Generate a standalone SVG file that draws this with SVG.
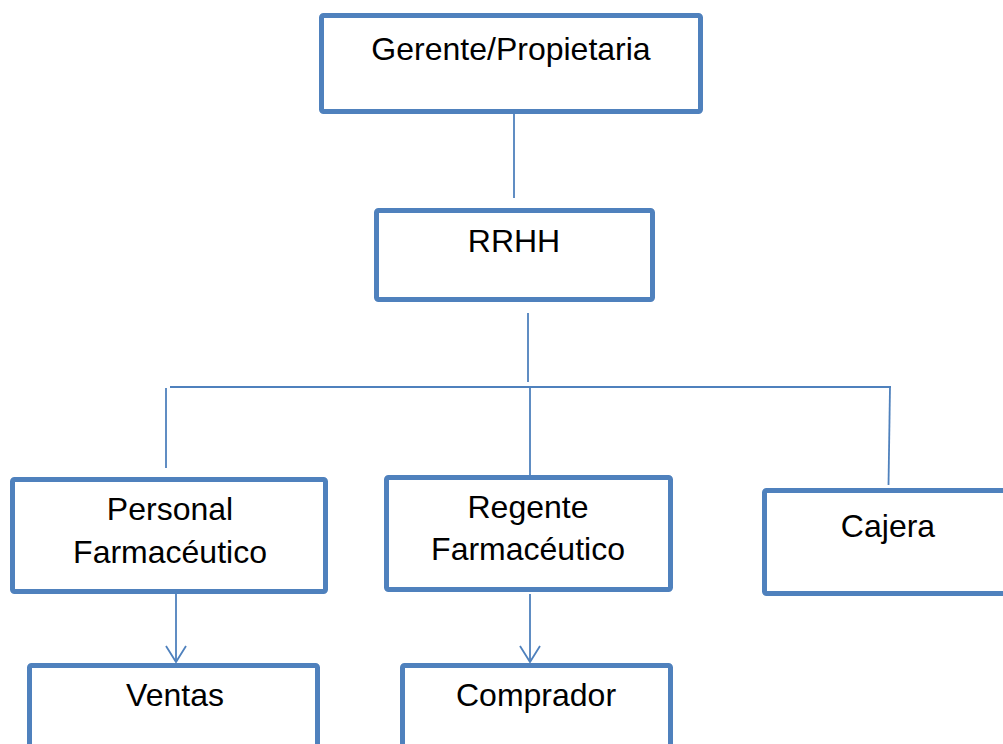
<svg xmlns="http://www.w3.org/2000/svg" width="1003" height="744" viewBox="0 0 1003 744">
<style>
.box{fill:#fff;stroke:#4F81BD;stroke-width:5}
.ln{fill:none;stroke:#4F81BD;stroke-width:1.8}
text{font-family:"Liberation Sans",Arial,sans-serif;font-size:32px;fill:#000;text-anchor:middle}
</style>
<defs>
<marker id="arr" markerUnits="userSpaceOnUse" markerWidth="24" markerHeight="20" refX="11" refY="17" orient="0" viewBox="0 0 22 20">
<path d="M1 1 L11 17 L21 1" fill="none" stroke="#4F81BD" stroke-width="1.8"/>
</marker>
</defs>
<rect width="1003" height="744" fill="#fff"/>
<g id="connectors">
<line class="ln" x1="514" y1="114" x2="514" y2="198"/>
<line class="ln" x1="528" y1="313" x2="528" y2="382"/>
<line class="ln" x1="170" y1="387" x2="891" y2="387"/>
<line class="ln" x1="166" y1="388" x2="166" y2="468"/>
<line class="ln" x1="530" y1="387" x2="530" y2="475"/>
<line class="ln" x1="890" y1="387" x2="888.5" y2="485"/>
<line class="ln" x1="176" y1="594" x2="176" y2="662" marker-end="url(#arr)"/>
<line class="ln" x1="530" y1="594" x2="530" y2="662" marker-end="url(#arr)"/>
</g>
<g id="gerente"><rect class="box" x="321.5" y="15.5" width="379" height="96" rx="2"/><text x="511" y="60">Gerente/Propietaria</text></g>
<g id="rrhh"><rect class="box" x="376.5" y="210.5" width="276" height="89" rx="2"/><text x="514" y="252">RRHH</text></g>
<g id="personal"><rect class="box" x="12.5" y="479.5" width="313" height="112" rx="2"/><text x="170" y="520">Personal</text><text x="170" y="563">Farmacéutico</text></g>
<g id="regente"><rect class="box" x="386.5" y="477.5" width="284" height="112" rx="2"/><text x="528" y="518">Regente</text><text x="528" y="560">Farmacéutico</text></g>
<g id="cajera"><rect class="box" x="764.5" y="490.5" width="260" height="103" rx="2"/><text x="888" y="537">Cajera</text></g>
<g id="ventas"><rect class="box" x="29.5" y="665.5" width="288" height="120" rx="2"/><text x="175" y="706">Ventas</text></g>
<g id="comprador"><rect class="box" x="402.5" y="665.5" width="268" height="120" rx="2"/><text x="536" y="706">Comprador</text></g>
</svg>
